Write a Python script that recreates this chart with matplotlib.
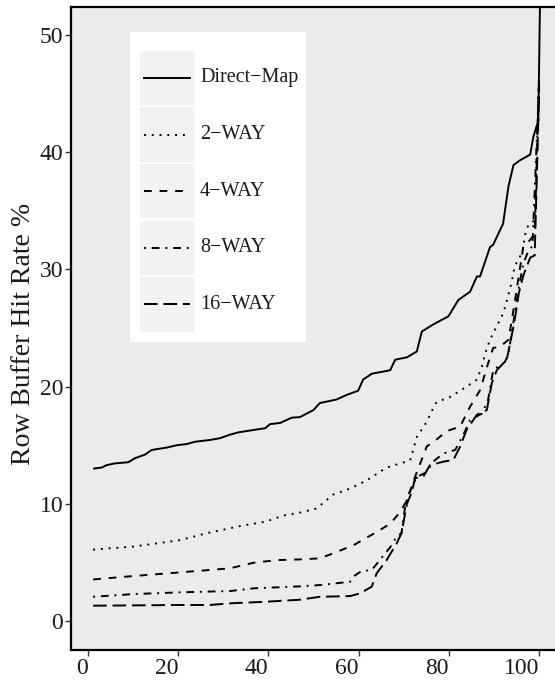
import matplotlib
matplotlib.use("Agg")
import matplotlib.pyplot as plt
from matplotlib.patches import Rectangle
from matplotlib.lines import Line2D

plt.rcParams['font.family'] = ['Liberation Serif', 'DejaVu Serif']

# values (x = workload percentile, y = hit rate %)
dm_x = [1.2, 3.1, 4.2, 6.0, 9.0, 10.5, 12.7, 14.2, 17.5, 19.7, 21.9, 23.8, 27.1, 29.3,
        31.5, 33.4, 36.7, 39.3, 40.4, 42.6, 45.2, 47.0, 50.0, 51.4, 55.1, 57.4, 59.9,
        61.0, 62.9, 67.0, 68.1, 70.7, 72.9, 74.0, 76.5, 79.9, 82.1, 84.7, 86.2, 86.9,
        89.1, 89.8, 92.0, 93.2, 94.3, 95.7, 98.0, 98.7, 99.8, 100.3]
dm_y = [13.0, 13.1, 13.3, 13.45, 13.55, 13.9, 14.2, 14.6, 14.8, 15.0, 15.1, 15.3, 15.45,
        15.6, 15.9, 16.1, 16.3, 16.45, 16.8, 16.9, 17.35, 17.4, 18.0, 18.6, 18.9, 19.3,
        19.65, 20.6, 21.1, 21.4, 22.3, 22.5, 23.0, 24.7, 25.3, 26.0, 27.4, 28.1, 29.4,
        29.4, 31.9, 32.1, 33.9, 37.1, 38.9, 39.3, 39.8, 41.3, 42.7, 56.0]

w2_x = [1.2, 10.1, 20.4, 26.4, 33.7, 39.6, 43.3, 47.0, 50.7, 54.4, 58.1, 61.8, 66.2, 71.4,
        72.9, 75.1, 76.5, 77.3, 80.2, 83.9, 86.2, 87.3, 88.0, 89.1, 91.3, 92.1, 93.9, 94.6,
        96.3, 96.9, 97.6, 99.0, 100.0]
w2_y = [6.1, 6.35, 6.9, 7.5, 8.1, 8.5, 9.0, 9.25, 9.6, 10.8, 11.3, 12.0, 13.1, 13.7, 15.7,
        17.0, 18.15, 18.7, 19.1, 20.0, 20.6, 21.7, 22.8, 24.0, 25.7, 26.3, 28.9, 30.3,
        31.5, 33.0, 33.8, 34.2, 47.0]

w4_x = [1.2, 10.1, 20.4, 31.5, 36.7, 41.9, 47.0, 51.4, 54.4, 59.0, 64.0, 67.0, 69.2, 70.7,
        72.5, 73.2, 75.1, 77.3, 79.5, 82.5, 84.7, 86.9, 88.7, 89.8, 91.3, 93.2, 94.5, 95.5,
        96.5, 97.5, 99.0, 100.0]
w4_y = [3.55, 3.84, 4.15, 4.5, 4.97, 5.2, 5.26, 5.35, 5.78, 6.5, 7.6, 8.3, 9.3, 10.3, 12.3,
        13.0, 14.9, 15.5, 16.2, 16.6, 18.3, 19.7, 22.0, 23.3, 23.4, 24.0, 27.0, 29.5, 32.0,
        32.3, 33.0, 46.5]

w8_x = [1.2, 10.1, 20.4, 31.5, 36.7, 47.0, 51.4, 58.1, 59.2, 60.7, 62.9, 64.7, 67.0, 68.4,
        69.5, 70.3, 71.0, 72.9, 75.1, 76.5, 78.8, 81.4, 83.2, 84.7, 87.3, 88.7, 89.8, 92.4,
        93.2, 94.5, 95.5, 96.5, 97.5, 98.5, 100.0]
w8_y = [2.07, 2.3, 2.45, 2.56, 2.79, 2.96, 3.07, 3.35, 3.9, 4.27, 4.35, 5.2, 6.3, 7.2, 7.5,
        9.75, 10.75, 12.3, 12.7, 13.6, 14.3, 14.6, 15.9, 17.15, 17.7, 18.9, 21.4, 22.1,
        22.8, 26.0, 28.5, 30.5, 31.5, 32.0, 46.0]

w16_x = [1.2, 20.4, 27.0, 31.5, 39.6, 47.0, 51.4, 58.1, 60.3, 62.9, 64.0, 66.2, 68.4, 69.5,
         70.7, 71.8, 72.5, 74.3, 75.8, 78.8, 81.0, 82.5, 83.9, 86.2, 88.4, 89.5, 90.6, 92.8,
         93.4, 94.5, 95.5, 96.5, 98.0, 99.0, 100.0]
w16_y = [1.31, 1.37, 1.37, 1.51, 1.65, 1.82, 2.07, 2.13, 2.36, 2.93, 4.07, 5.2, 6.6, 7.5,
         10.0, 11.0, 12.2, 12.3, 13.3, 13.6, 13.75, 14.9, 16.3, 17.6, 18.0, 20.3, 21.4, 22.3,
         23.4, 25.5, 28.0, 29.5, 31.0, 31.2, 45.5]

labels = ['Direct\u2212Map', '2\u2212WAY', '4\u2212WAY', '8\u2212WAY', '16\u2212WAY']
styles = ['-', (0, (1, 3)), (0, (4, 4)), (0, (1, 3, 4, 3)), (0, (7, 3))]
series = [(dm_x, dm_y), (w2_x, w2_y), (w4_x, w4_y), (w8_x, w8_y), (w16_x, w16_y)]

W, H = 555, 681
fig = plt.figure(figsize=(W / 100, H / 100), dpi=100)
fig.patch.set_facecolor('white')

# panel in pixel units (left, right, top, bottom)
pl, pr, pt, pb = 71, 555, 7, 650
ax = fig.add_axes([pl / W, (H - pb) / H, (pr - pl) / W, (pb - pt) / H])
ax.set_facecolor('#EBEBEB')

lw = 1.4
for (xs, ys), ls in zip(series, styles):
    ax.plot(xs, ys, color='black', linestyle=ls, linewidth=lw,
            solid_capstyle='butt', dash_capstyle='butt')

ax.set_xlim(-3.7, 103.5)
ax.set_ylim(-2.47, 52.39)
ax.set_xticks([0, 20, 40, 60, 80, 100])
ax.set_yticks([0, 10, 20, 30, 40, 50])
ax.tick_params(direction='out', length=4, width=1.0, color='#333333',
               labelsize=17, labelcolor='#1a1a1a', pad=1.5)
for lbl in ax.get_xticklabels():
    lbl.set_horizontalalignment('right')
for side in ['left', 'bottom', 'top']:
    ax.spines[side].set_linewidth(1.6)
    ax.spines[side].set_color('black')
ax.spines['right'].set_visible(False)

fig.text(24 / W, 1 - 334 / H, 'Row Buffer Hit Rate %', rotation=90,
         ha='center', va='center', fontsize=20, color='#1a1a1a')

# legend drawn in pixel coordinates inside the panel
def px(x, y):
    return x / W, 1 - y / H

lx0, lx1, ly0, ly1 = 130, 306, 32, 342
bx, by = px(lx0, ly1)
fig.patches.append(Rectangle((bx, by), (lx1 - lx0) / W, (ly1 - ly0) / H,
                             transform=fig.transFigure, facecolor='white',
                             edgecolor='none', zorder=3))
row_top, pitch, key_h = 50.7, 56.65, 54.3
for i, (lab, ls) in enumerate(zip(labels, styles)):
    top = row_top + i * pitch
    kx, ky = px(140, top + key_h)
    fig.patches.append(Rectangle((kx, ky), 54 / W, key_h / H,
                                 transform=fig.transFigure, facecolor='#F2F2F2',
                                 edgecolor='none', zorder=4))
    cy = top + key_h / 2
    (x0, y0), (x1, _) = px(144, cy), px(190, cy)
    fig.lines.append(Line2D([x0, x1], [y0, y0], transform=fig.transFigure,
                            color='black', linestyle=ls, linewidth=lw,
                            dash_capstyle='butt', zorder=5))
    tx, ty = px(200, cy)
    fig.text(tx, ty, lab, ha='left', va='center', fontsize=14.5,
             color='#1a1a1a', zorder=6)

fig.savefig('out.png', dpi=100)
